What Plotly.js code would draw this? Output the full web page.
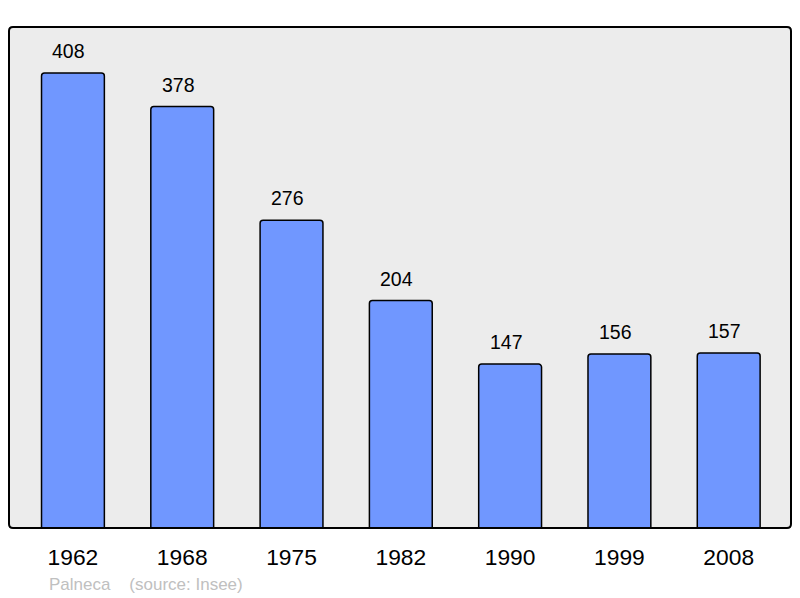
<!DOCTYPE html>
<html><head><meta charset="utf-8">
<script src="https://cdn.plot.ly/plotly-3.0.1.min.js"></script>
<style>html,body{margin:0;padding:0;background:#fff}#chart{width:800px;height:598px}</style>
</head><body><div id="chart"></div>
<script>
const years = ['1962','1968','1975','1982','1990','1999','2008'];
const population = [408,378,276,204,147,156,157];
const footerText = 'Palneca\u00a0\u00a0\u00a0\u00a0(source: Insee)';

const trace = {
  type:'bar', x:years, y:population,
  marker:{color:'#7097ff', line:{color:'#000', width:1.5}, cornerradius:3},
  width:0.575, hoverinfo:'none'
};
const annotations = years.map((yr,i)=>({
  x:i, y:population[i], xref:'x', yref:'y', text:String(population[i]),
  showarrow:false, yanchor:'bottom', yshift:9, xshift:-4,
  font:{family:'Liberation Sans, Arial, sans-serif', size:19.5, color:'#000'}
}));
annotations.push({
  xref:'paper', yref:'paper', x:0.048, y:-0.112, xanchor:'left', yanchor:'middle',
  text:footerText, showarrow:false,
  font:{family:'Liberation Sans, Arial, sans-serif', size:17, color:'#c0c0c0'}
});
const W=782, H=501, r=4;
const rx=r/W, ry=r/H;
const path = `M ${rx},0 L ${1-rx},0 Q 1,0 1,${ry} L 1,${1-ry} Q 1,1 ${1-rx},1 L ${rx},1 Q 0,1 0,${1-ry} L 0,${ry} Q 0,0 ${rx},0 Z`;
const layout = {
  width:800, height:598,
  margin:{l:9, r:9, t:27, b:70},
  paper_bgcolor:'#fff', plot_bgcolor:'#ececec',
  showlegend:false,
  xaxis:{type:'category', range:[-0.585,6.57], showgrid:false, zeroline:false, showline:false,
    ticks:'outside', ticklen:9, tickcolor:'rgba(0,0,0,0)',
    tickfont:{family:'Liberation Sans, Arial, sans-serif', size:22.8, color:'#000'}, automargin:false},
  yaxis:{range:[0,449.3], showgrid:false, zeroline:false, showline:false, showticklabels:false, ticks:''},
  annotations:annotations,
  shapes:[{type:'path', xref:'paper', yref:'paper', path:path,
    line:{color:'#000', width:2}, fillcolor:'rgba(0,0,0,0)', layer:'above'}]
};
Plotly.newPlot('chart',[trace],layout,{staticPlot:true});
</script></body></html>
